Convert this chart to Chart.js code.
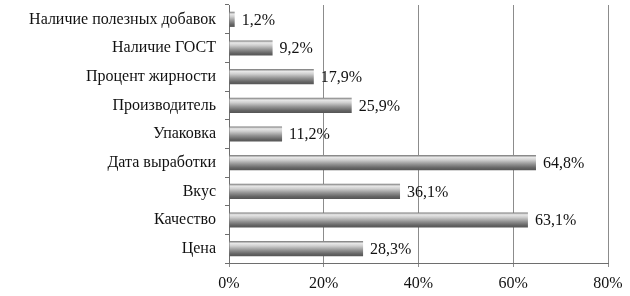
<!DOCTYPE html>
<html><head><meta charset="utf-8">
<script src="https://cdn.jsdelivr.net/npm/chart.js@4/dist/chart.umd.min.js"></script>
<style>html,body{margin:0;padding:0;background:#fff}#w{width:630px;height:296px}</style>
</head><body><div id="w"><canvas id="c"></canvas></div>
<script>
const categories = ["Наличие полезных добавок","Наличие ГОСТ","Процент жирности","Производитель","Упаковка","Дата выработки","Вкус","Качество","Цена"];
const values = [1.2, 9.2, 17.9, 25.9, 11.2, 64.8, 36.1, 63.1, 28.3];
const xTicks = [0, 20, 40, 60, 80];

const FONT = "'Liberation Serif', 'Times New Roman', serif";

function barFill(ctx){
  const chart = ctx.chart;
  const ys = chart.scales && chart.scales.y;
  if (!ys || ctx.dataIndex === undefined) return '#999';
  const yc = ys.getPixelForValue(ctx.dataIndex);
  if (!isFinite(yc)) return '#999';
  const h = 7.5;
  const g = chart.ctx.createLinearGradient(0, yc - h, 0, yc + h);
  g.addColorStop(0, '#7a7a7a');
  g.addColorStop(0.15, '#e8e8e8');
  g.addColorStop(0.32, '#cfcfcf');
  g.addColorStop(0.6, '#939393');
  g.addColorStop(0.85, '#646464');
  g.addColorStop(1, '#555555');
  return g;
}

const labelPlugin = {
  id: 'valLabels',
  afterDatasetsDraw(chart){
    const meta = chart.getDatasetMeta(0);
    const c = chart.ctx;
    c.save();
    c.font = "16px " + FONT;
    c.fillStyle = '#111';
    c.textBaseline = 'middle';
    c.textAlign = 'left';
    meta.data.forEach((el, i) => {
      c.fillText(values[i].toFixed(1).replace('.', ',') + '%', el.x + 7, el.y + 1);
    });
    c.restore();
  }
};

new Chart(document.getElementById('c'), {
  type: 'bar',
  data: {
    labels: categories,
    datasets: [{
      data: values,
      backgroundColor: barFill,
      borderColor: '#666',
      borderWidth: 0,
      categoryPercentage: 1,
      barPercentage: 0.53
    }]
  },
  plugins: [labelPlugin],
  options: {
    indexAxis: 'y',
    responsive: true,
    maintainAspectRatio: false,
    animation: false,
    layout: { padding: { top: 5, right: 22, left: 0, bottom: 0 } },
    plugins: { legend: { display: false }, tooltip: { enabled: false } },
    scales: {
      x: {
        min: 0, max: 80,
        afterBuildTicks(s){ s.ticks = xTicks.map(v => ({ value: v })); },
        afterFit(s){ s.height = 33; },
        ticks: {
          font: { family: FONT, size: 16 },
          color: '#111',
          padding: 7,
          callback: v => v + '%'
        },
        grid: { color: '#8c8c8c', lineWidth: 1, tickLength: 4, tickColor: '#8c8c8c' },
        border: { color: '#6e6e6e', width: 1 }
      },
      y: {
        afterFit(s){ s.width = 229; s.paddingTop = 0; s.paddingBottom = 0; },
        ticks: {
          font: { family: FONT, size: 16 },
          color: '#111',
          padding: 9
        },
        grid: { display: true, drawOnChartArea: false, offset: true, tickLength: 4, color: '#6e6e6e', tickColor: '#6e6e6e' },
        border: { color: '#6e6e6e', width: 1 }
      }
    }
  }
});
</script>
</body></html>
